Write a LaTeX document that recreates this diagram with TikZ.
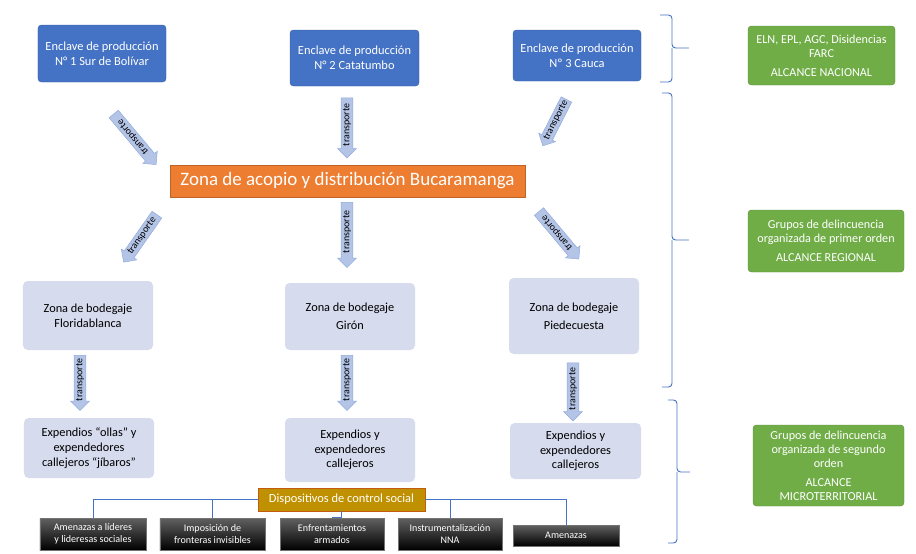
\documentclass[tikz,border=0pt]{standalone}
\usepackage{fontspec}
\setmainfont{Carlito}
\usepackage{tikz}
\usetikzlibrary{shapes.arrows}

\definecolor{enclaveazul}{HTML}{4472C4}
\definecolor{acopionaranja}{HTML}{ED7D31}
\definecolor{bodegagris}{HTML}{D6DBEE}
\definecolor{alcanceverde}{HTML}{70AD47}
\definecolor{controloro}{HTML}{BF9000}
\definecolor{controlborde}{HTML}{C55A11}
\definecolor{flechafondo}{HTML}{B4C4E6}
\definecolor{flechaborde}{HTML}{8FAADC}

\begin{document}
\begin{tikzpicture}[x=0.03cm,y=-0.03cm,
  enclave/.style={fill=enclaveazul,draw=enclaveazul!85!black,rounded corners=3pt,text=white,align=center,inner sep=0pt,font=\fontsize{10.6}{12.8}\selectfont},
  bodega/.style={fill=bodegagris,rounded corners=4pt,align=center,inner sep=0pt,font=\fontsize{10.5}{12.5}\selectfont},
  alcance/.style={fill=alcanceverde,draw=alcanceverde!85!black,rounded corners=3pt,text=white,align=center,inner sep=0pt,font=\fontsize{10.4}{12}\selectfont},
  accion/.style={top color=black!62,bottom color=black,draw=black!55,text=white,align=center,inner sep=0pt,font=\fontsize{8.6}{10.5}\selectfont},
  flecha/.style={single arrow,shape border rotate=180,fill=flechafondo,draw=flechaborde,thin,inner xsep=1pt,inner ysep=1.5pt,single arrow head extend=3pt,font=\fontsize{8.5}{9}\selectfont},
  llave/.style={enclaveazul,thick,rounded corners=3pt},
  rama/.style={enclaveazul,thick}]
\useasboundingbox (0,0) rectangle (916,553);

% Enclaves de produccion
\node[enclave,minimum width=3.84cm,minimum height=1.71cm] (enc1) at (102,53.5) {Enclave de producción\\N° 1 Sur de Bolívar};
\node[enclave,minimum width=3.87cm,minimum height=1.68cm] (enc2) at (354.5,58) {Enclave de producción\\N° 2 Catatumbo};
\node[enclave,minimum width=3.84cm,minimum height=1.53cm] (enc3) at (577,55.5) {Enclave de producción\\Nº 3 Cauca};

% Zona de acopio
\node[fill=acopionaranja,draw=acopionaranja!80!black,text=white,inner sep=0pt,minimum width=10.65cm,minimum height=0.96cm,font=\fontsize{16.2}{19}\selectfont] (acopio) at (347.5,181) {Zona de acopio y distribución Bucaramanga};

\node[flecha,rotate=130,minimum height=1.98cm] (t1) at (133,137) {transporte};
\node[flecha,rotate=90,minimum height=1.8cm] (t2) at (347,125) {transporte};
\node[flecha,rotate=63,minimum height=1.56cm] (t3) at (556,120) {transporte};

% Zonas de bodegaje
\node[bodega,minimum width=3.9cm,minimum height=2.07cm] (bod1) at (88,315.5) {Zona de bodegaje\\Floridablanca};
\node[bodega,minimum width=3.9cm,minimum height=2.01cm] (bod2) at (350,316.5) {Zona de bodegaje\\[3pt]Girón};
\node[bodega,minimum width=3.9cm,minimum height=2.28cm] (bod3) at (574,316) {Zona de bodegaje\\[3pt]Piedecuesta};

\node[flecha,rotate=55,minimum height=1.74cm] (t4) at (142,236) {transporte};
\node[flecha,rotate=90,minimum height=1.95cm] (t5) at (347,232) {transporte};
\node[flecha,rotate=130,minimum height=1.86cm] (t6) at (557,233) {transporte};

% Expendios
\node[bodega,minimum width=3.9cm,minimum height=1.8cm] (exp1) at (89,448) {Expendios “ollas” y\\expendedores\\callejeros “jíbaros”};
\node[bodega,minimum width=3.9cm,minimum height=1.92cm] (exp2) at (350,450) {Expendios y\\expendedores\\callejeros};
\node[bodega,minimum width=3.93cm,minimum height=1.68cm] (exp3) at (575.5,451) {Expendios y\\expendedores\\callejeros};

\node[flecha,rotate=90,minimum height=1.65cm] (t7) at (80,380) {transporte};
\node[flecha,rotate=90,minimum height=1.65cm] (t8) at (347,380) {transporte};
\node[flecha,rotate=90,minimum height=1.74cm] (t9) at (573,389) {transporte};

% Dispositivos de control social
\node[fill=controloro,draw=controlborde,line width=0.8pt,text=white,inner sep=0pt,minimum width=5.01cm,minimum height=0.69cm,font=\fontsize{10.6}{12}\selectfont] (disp) at (341.5,499.5) {Dispositivos de control social};

\node[accion,minimum width=3.18cm,minimum height=0.96cm] (amen1) at (93,534) {Amenazas a líderes\\y lideresas sociales};
\node[accion,minimum width=3.15cm,minimum height=0.96cm] (front) at (212.5,534) {Imposición de\\fronteras invisibles};
\node[accion,minimum width=3.12cm,minimum height=0.96cm] (enfr) at (332,534) {Enfrentamientos\\armados};
\node[accion,minimum width=3.12cm,minimum height=0.96cm] (nna) at (450,534) {Instrumentalización\\NNA};
\node[accion,minimum width=3.18cm,minimum height=0.63cm] (amen2) at (566,535.5) {Amenazas};

\draw[rama] (disp.west) -| (amen1.north);
\draw[rama] (disp.west) -| (front.north);
\draw[rama] (disp.south) -- ++(0,6) -| (enfr.north);
\draw[rama] (disp.east) -| (nna.north);
\draw[rama] (disp.east) -| (amen2.north);

% Llaves
\draw[llave] (660,15) -| (672,48) -- (689,48);
\draw[llave] (660,82) -| (672,48);
\draw[llave] (662,93) -| (672,240) -- (689,240);
\draw[llave] (662,387) -| (672,240);
\draw[llave] (668,400) -| (677,472) -- (690,472);
\draw[llave] (668,543) -| (677,472);

% Alcances
\node[alcance,minimum width=4.41cm,minimum height=1.77cm] (nac) at (821.5,55.5) {ELN, EPL, AGC, Disidencias\\FARC\\[4pt]ALCANCE NACIONAL};
\node[alcance,minimum width=4.68cm,minimum height=1.86cm] (reg) at (826,241) {Grupos de delincuencia\\organizada de primer orden\\[4pt]ALCANCE REGIONAL};
\node[alcance,minimum width=4.53cm,minimum height=2.43cm] (micro) at (828.5,465.5) {Grupos de delincuencia\\organizada de segundo\\orden\\[4pt]ALCANCE\\MICROTERRITORIAL};

\end{tikzpicture}
\end{document}
